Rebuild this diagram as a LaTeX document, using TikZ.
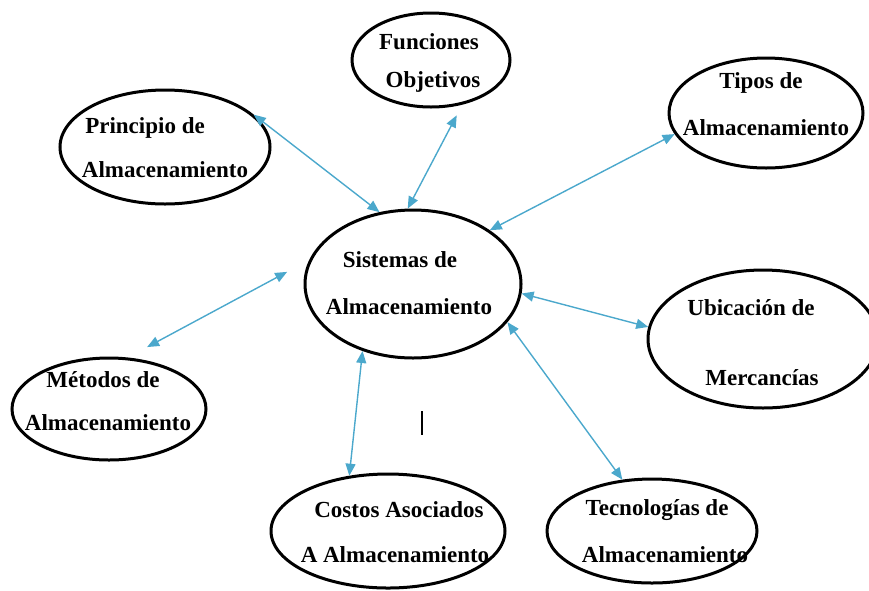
\documentclass[tikz,border=0pt]{standalone}
\usepackage{fontspec}
\setmainfont{Liberation Serif}
\usetikzlibrary{shapes.geometric,arrows.meta}
\definecolor{linkblue}{RGB}{75,168,204}
\tikzset{
  bubble/.style={draw=black, line width=3pt, ellipse, inner sep=0pt},
  caption/.style={font=\fontsize{23}{23}\selectfont\bfseries, inner sep=0pt, anchor=center},
  link/.style={draw=linkblue, line width=1.4pt,
    {Triangle[length=12pt,width=10pt]}-{Triangle[length=12pt,width=10pt]}},
}
\begin{document}
\begin{tikzpicture}[x=1pt,y=-1pt]
\useasboundingbox (0,0) rectangle (869,590);
\clip (0,0) rectangle (869,590);

% central concept
\node[bubble, minimum width=216pt, minimum height=148pt] (sis) at (413,284) {};
\node[caption] (sisA) at (400,260) {Sistemas de};
\node[caption] (sisB) at (409,307) {Almacenamiento};

% surrounding concepts
\node[bubble, minimum width=158pt, minimum height=94pt] (fun) at (431,60) {};
\node[caption] (funA) at (429,42) {Funciones};
\node[caption] (funB) at (433,82) {Objetivos};

\node[bubble, minimum width=210pt, minimum height=114pt] (pri) at (165,147) {};
\node[caption] (priA) at (145,128) {Principio de};
\node[caption] (priB) at (165,170) {Almacenamiento};

\node[bubble, minimum width=194pt, minimum height=110pt] (tip) at (766,113) {};
\node[caption] (tipA) at (761,83) {Tipos de};
\node[caption] (tipB) at (766,128) {Almacenamiento};

\node[bubble, minimum width=230pt, minimum height=138pt] (ubi) at (763,339) {};
\node[caption] (ubiA) at (751,308) {Ubicación de};
\node[caption] (ubiB) at (762,378) {Mercancías};

\node[bubble, minimum width=194pt, minimum height=102pt] (met) at (109,409) {};
\node[caption] (metA) at (103,380) {Métodos de};
\node[caption] (metB) at (108,423) {Almacenamiento};

\node[bubble, minimum width=234pt, minimum height=114pt] (cos) at (388,531) {};
\node[caption] (cosA) at (399,510) {Costos Asociados};
\node[caption] (cosB) at (395,555) {A Almacenamiento};

\node[bubble, minimum width=210pt, minimum height=104pt] (tec) at (652,531) {};
\node[caption] (tecA) at (657,510) {Tecnologías de};
\node[caption] (tecB) at (665,555) {Almacenamiento};

% two-way links to the central concept
\draw[link] (pri.20) -- (sis.115);
\draw[link, shorten <=12pt] (fun.305) -- (sis.94);
\draw[link] (tip.193) -- (sis.35);
\draw[link] (ubi.174) -- (sis.-5);
\draw[link] (tec.120) -- (sis.-22);
\draw[link, shorten <=22pt, shorten >=25pt] (met.70) -- (sis.167);
\draw[link] (cos.125) -- (sis.233);

% text cursor mark
\draw[line width=2pt] (421.5,411) -- (421.5,435);
\end{tikzpicture}
\end{document}
